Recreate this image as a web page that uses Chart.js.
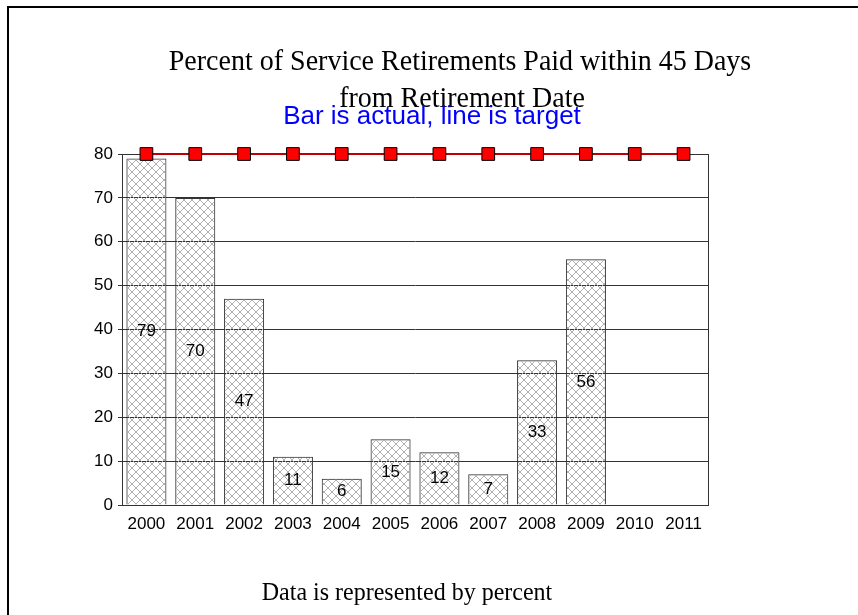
<!DOCTYPE html>
<html>
<head>
<meta charset="utf-8">
<script src="https://cdn.jsdelivr.net/npm/chart.js@4"></script>
<style>
  body { margin: 0; background: #fff; }
  #wrap { position: relative; width: 858px; height: 615px; overflow: hidden; }
  #frame { position: absolute; left: 7px; top: 6px; width: 900px; height: 700px; border: 2px solid #000; }
  #chart { position: absolute; left: 0; top: 0; }
</style>
</head>
<body>
<div id="wrap">
  <div id="frame"></div>
  <canvas id="chart" width="858" height="615"></canvas>
</div>
<script>
// years on the x axis
const years = ["2000", "2001", "2002", "2003", "2004", "2005", "2006", "2007", "2008", "2009", "2010", "2011"];
// actual percent paid within 45 days (bars)
const actual = [79, 70, 47, 11, 6, 15, 12, 7, 33, 56, null, null];
// target percent (line)
const target = [80, 80, 80, 80, 80, 80, 80, 80, 80, 80, 80, 80];
const yTicks = [0, 10, 20, 30, 40, 50, 60, 70, 80];

const titleLines = ["Percent of Service Retirements Paid within 45 Days", "from Retirement Date"];
const subTitle = "Bar is actual, line is target";
const footNote = "Data is represented by percent";

// cross hatch fill for the bars
function makeHatch() {
  const c = document.createElement("canvas");
  c.width = 8;
  c.height = 8;
  const g = c.getContext("2d");
  g.strokeStyle = "#b0b0b0";
  g.lineWidth = 1;
  g.beginPath();
  g.moveTo(0, 0); g.lineTo(8, 8);
  g.moveTo(8, 0); g.lineTo(0, 8);
  g.stroke();
  return g.createPattern(c, "repeat");
}

// draw text a bit taller than normal, like the slide
function tallText(ctx, txt, x, y, sy) {
  ctx.save();
  ctx.translate(x, y);
  ctx.scale(1, sy);
  ctx.fillText(txt, 0, 0);
  ctx.restore();
}

// texts around the chart
const textPlugin = {
  id: "texts",
  afterDraw(chart) {
    const ctx = chart.ctx;
    ctx.save();
    ctx.textAlign = "center";
    ctx.textBaseline = "alphabetic";
    ctx.fillStyle = "#000";
    ctx.font = "28px 'Liberation Serif'";
    tallText(ctx, titleLines[0], 460, 70, 1.08);
    tallText(ctx, titleLines[1], 462, 107, 1.08);
    ctx.fillStyle = "#0000ff";
    ctx.font = "26px 'Liberation Sans'";
    ctx.fillText(subTitle, 432, 124);
    ctx.fillStyle = "#000";
    ctx.font = "24px 'Liberation Serif'";
    tallText(ctx, footNote, 407, 600, 1.07);
    ctx.restore();
  }
};

// value labels in the middle of each bar, plus plot frame
const barLabels = {
  id: "barLabels",
  beforeDatasetsDraw(chart) {
    const a = chart.chartArea;
    const ctx = chart.ctx;
    ctx.save();
    ctx.strokeStyle = "#333";
    ctx.lineWidth = 1;
    ctx.strokeRect(Math.round(a.left) + 0.5, Math.round(a.top) + 0.5, Math.round(a.right - a.left), Math.round(a.bottom - a.top));
    ctx.restore();
  },
  afterDatasetsDraw(chart) {
    const ctx = chart.ctx;
    const meta = chart.getDatasetMeta(0);
    ctx.save();
    ctx.font = "17px 'Liberation Sans'";
    ctx.fillStyle = "#000";
    ctx.textAlign = "center";
    ctx.textBaseline = "middle";
    meta.data.forEach((bar, i) => {
      if (actual[i] == null) return;
      ctx.fillText(String(actual[i]), bar.x, (bar.y + bar.base) / 2);
    });
    ctx.restore();
  }
};

const ctx = document.getElementById("chart").getContext("2d");
new Chart(ctx, {
  data: {
    labels: years,
    datasets: [
      {
        type: "bar",
        label: "Actual",
        data: actual,
        backgroundColor: makeHatch(),
        borderColor: "#333",
        borderWidth: 1,
        barPercentage: 0.82,
        categoryPercentage: 1,
        order: 1
      },
      {
        type: "line",
        label: "Target",
        data: target,
        borderColor: "#c00000",
        borderWidth: 2,
        pointStyle: "rect",
        pointRadius: 9,
        pointBackgroundColor: "#ff0000",
        pointBorderColor: "#000",
        pointBorderWidth: 1,
        clip: false,
        order: 0
      }
    ]
  },
  options: {
    responsive: false,
    animation: false,
    layout: { padding: { left: 0, right: 150, top: 154, bottom: 80 } },
    plugins: {
      legend: { display: false },
      tooltip: { enabled: false }
    },
    scales: {
      x: {
        grid: { display: false, drawTicks: false },
        border: { display: true, color: "#000", width: 1 },
        ticks: { color: "#000", font: { family: "Liberation Sans", size: 17 }, padding: 9, maxRotation: 0 },
        afterFit(scale) { scale.height = 30; }
      },
      y: {
        min: 0,
        max: 80,
        afterBuildTicks(scale) { scale.ticks = yTicks.map(v => ({ value: v })); },
        grid: { color: "#333", tickLength: 4 },
        border: { display: true, color: "#000", width: 1 },
        ticks: { color: "#000", font: { family: "Liberation Sans", size: 17 }, padding: 5 },
        afterFit(scale) { scale.width = 122; }
      }
    }
  },
  plugins: [textPlugin, barLabels]
});
</script>
</body>
</html>
